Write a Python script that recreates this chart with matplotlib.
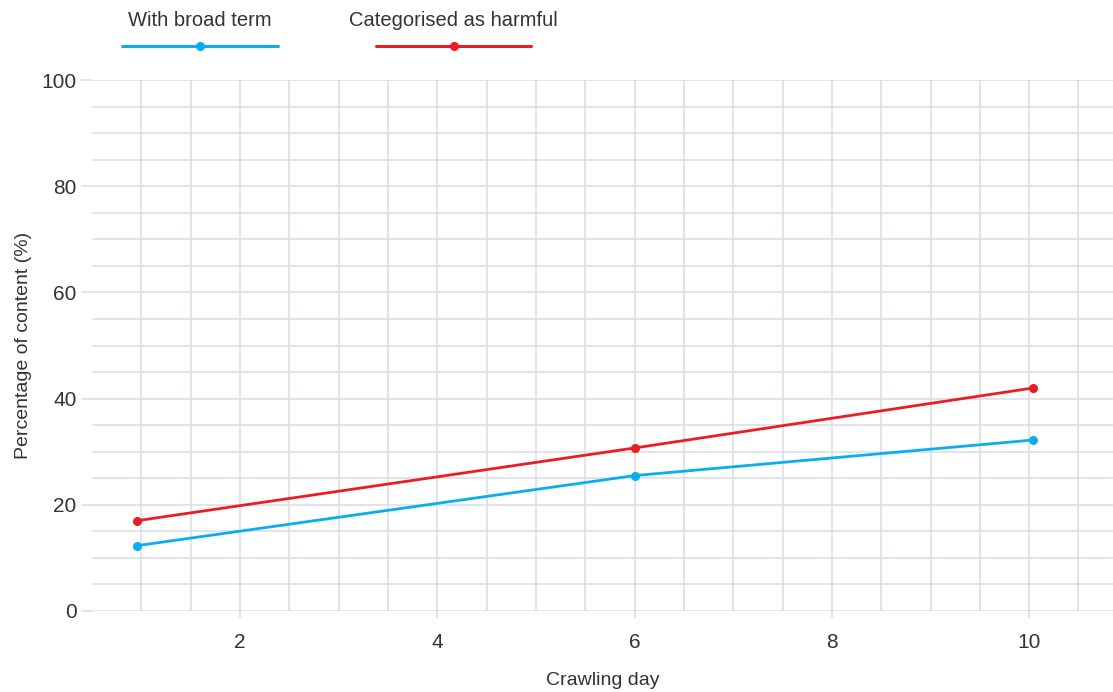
import matplotlib
matplotlib.use("Agg")
import matplotlib.pyplot as plt
from matplotlib.lines import Line2D
from matplotlib.ticker import FixedLocator, MultipleLocator

# Data
series_names = ["With broad term", "Categorised as harmful"]
crawl_day = [0.955, 6, 10.04]
broad_term = [12.3, 25.5, 32.2]
harmful = [17.0, 30.7, 42.0]
x_ticks = [2, 4, 6, 8, 10]
y_ticks = [0, 20, 40, 60, 80, 100]
x_label = "Crawling day"
y_label = "Percentage of content (%)"

BLUE = "#0aaeef"
RED = "#ec1c24"
GRID = "#d9dde2"
TXT = "#333333"

plt.rcParams['font.family'] = ['Liberation Sans', 'DejaVu Sans']

W, H = 1113, 692
fig = plt.figure(figsize=(W / 100, H / 100), dpi=100)
ax = fig.add_axes([92 / W, (H - 611) / H, (W - 92) / W, (611 - 80) / H])

ax.set_xlim(0.5, 10.85)
ax.set_ylim(0, 100)

ax.xaxis.set_major_locator(FixedLocator(x_ticks))
ax.xaxis.set_minor_locator(FixedLocator([v / 2 for v in range(2, 22)]))
ax.yaxis.set_major_locator(FixedLocator(y_ticks))
ax.yaxis.set_minor_locator(MultipleLocator(5))

ax.grid(True, which='both', color=GRID, linewidth=1.1, zorder=0)
ax.set_axisbelow(True)
for s in ax.spines.values():
    s.set_visible(False)

ax.tick_params(axis='both', which='major', color=GRID, width=1.1,
               labelsize=15, labelcolor=TXT)
ax.tick_params(axis='both', which='minor', length=0)
ax.tick_params(axis='x', length=5, pad=11)
ax.tick_params(axis='y', length=8, pad=3)

for y, c in [(broad_term, BLUE), (harmful, RED)]:
    ax.plot(crawl_day, y, color=c, linewidth=2.0, marker='o', markersize=5.5,
            zorder=3, clip_on=False)

ax.set_xlabel(x_label, fontsize=14, color=TXT, labelpad=14)
ax.set_ylabel(y_label, fontsize=14, color=TXT, labelpad=7)

# Legend (manual, text above line)
legend_specs = [(series_names[0], BLUE, 122, 278), (series_names[1], RED, 376, 531)]
for name, c, x0, x1 in legend_specs:
    ly = (H - 46) / H
    fig.add_artist(Line2D([x0 / W, x1 / W], [ly, ly], color=c, linewidth=2.2,
                          transform=fig.transFigure, solid_capstyle='round'))
    xm = (x0 + x1) / 2 / W
    fig.add_artist(Line2D([xm], [ly], color=c, marker='o', markersize=5.5,
                          transform=fig.transFigure))
    fig.text(xm, (H - 20) / H, name, ha='center', va='center', fontsize=14.5, color=TXT)

fig.savefig("out.png", dpi=100)
